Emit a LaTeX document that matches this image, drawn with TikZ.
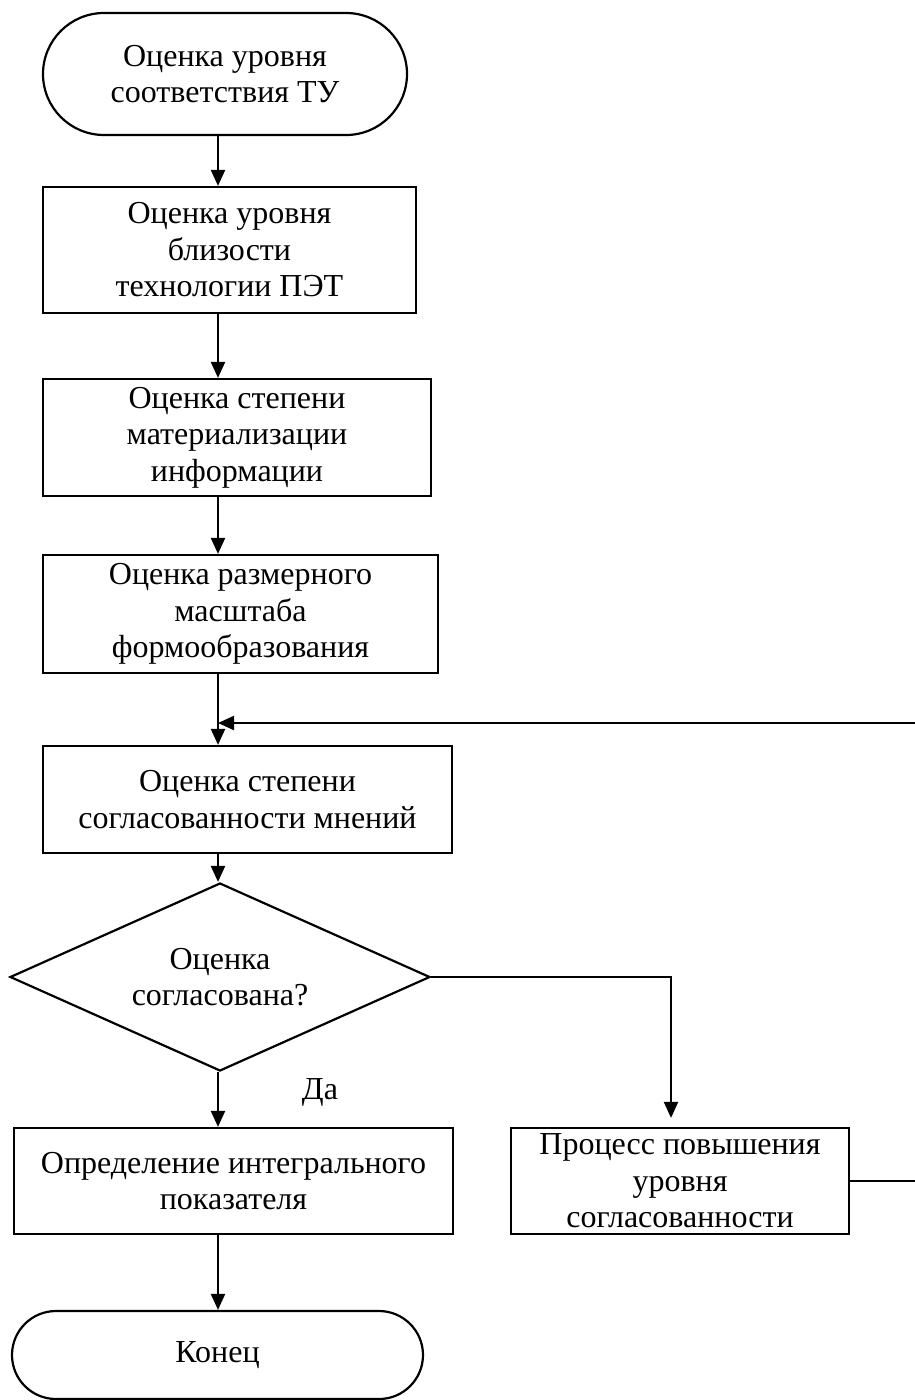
\documentclass[tikz,border=0pt]{standalone}
\usepackage{fontspec}
\setmainfont{Liberation Serif}
\usetikzlibrary{arrows.meta,shapes.geometric,shapes.misc}

\begin{document}
\begin{tikzpicture}[
			x=1pt, y=-1pt,
			>={Triangle[length=16pt,width=14pt]},
			line width=2.2pt,
			every node/.style={
				draw,
				align=center,
				inner sep=0pt,
				font=\fontsize{32}{36.5}\selectfont,
			},
			block/.style={rectangle},
			term/.style={rounded rectangle},
			decision/.style={diamond, aspect=2.2},
		]
		\useasboundingbox (0,0) rectangle (914,1400);
		\node[term, minimum width=364, minimum height=122] (tu) at (225,74) {Оценка уровня\\соответствия ТУ};
		\node[block, minimum width=373, minimum height=126] (pet) at (229.5,250) {Оценка уровня\\близости\\технологии ПЭТ};
		\node[block, minimum width=388, minimum height=117] (info) at (237,437.5) {Оценка степени\\материализации\\информации};
		\node[block, minimum width=395, minimum height=118] (scale) at (240.5,614) {Оценка размерного\\масштаба\\формообразования};
		\node[block, minimum width=409, minimum height=107] (opinion) at (247.5,799.5) {Оценка степени\\согласованности мнений};
		\node[decision, minimum width=420, minimum height=188] (agreed) at (220,977) {Оценка\\согласована?};
		\node[block, minimum width=439, minimum height=106] (integral) at (233.5,1181) {Определение интегрального\\показателя};
		\node[block, minimum width=338, minimum height=106] (improve) at (680,1181) {Процесс повышения\\уровня\\согласованности};
		\node[term, minimum width=411, minimum height=88] (finish) at (217.5,1355) {Конец};
		\node[draw=none] (yes) at (320,1092) {Да};

		\coordinate (spine) at (218,0);
		\coordinate (merge) at (218,723);
		\coordinate (back) at (930,1181);

		\path (tu.south -| spine) edge[->] (pet.north -| spine);
		\path (pet.south -| spine) edge[->] (info.north -| spine);
		\path (info.south -| spine) edge[->] (scale.north -| spine);
		\path (scale.south -| spine) edge[->] (opinion.north -| spine);
		\path (opinion.south -| spine) edge[->] (agreed.north -| spine);
		\path (agreed.south -| spine) edge[->] (integral.north -| spine);
		\path (integral.south -| spine) edge[->] (finish.north -| spine);
		\draw[->, shorten >=9pt] (agreed.east) -| ([xshift=-9pt]improve.north);
		\draw[->] (improve.east) -- (back) |- (merge);
	\end{tikzpicture}
\end{document}
